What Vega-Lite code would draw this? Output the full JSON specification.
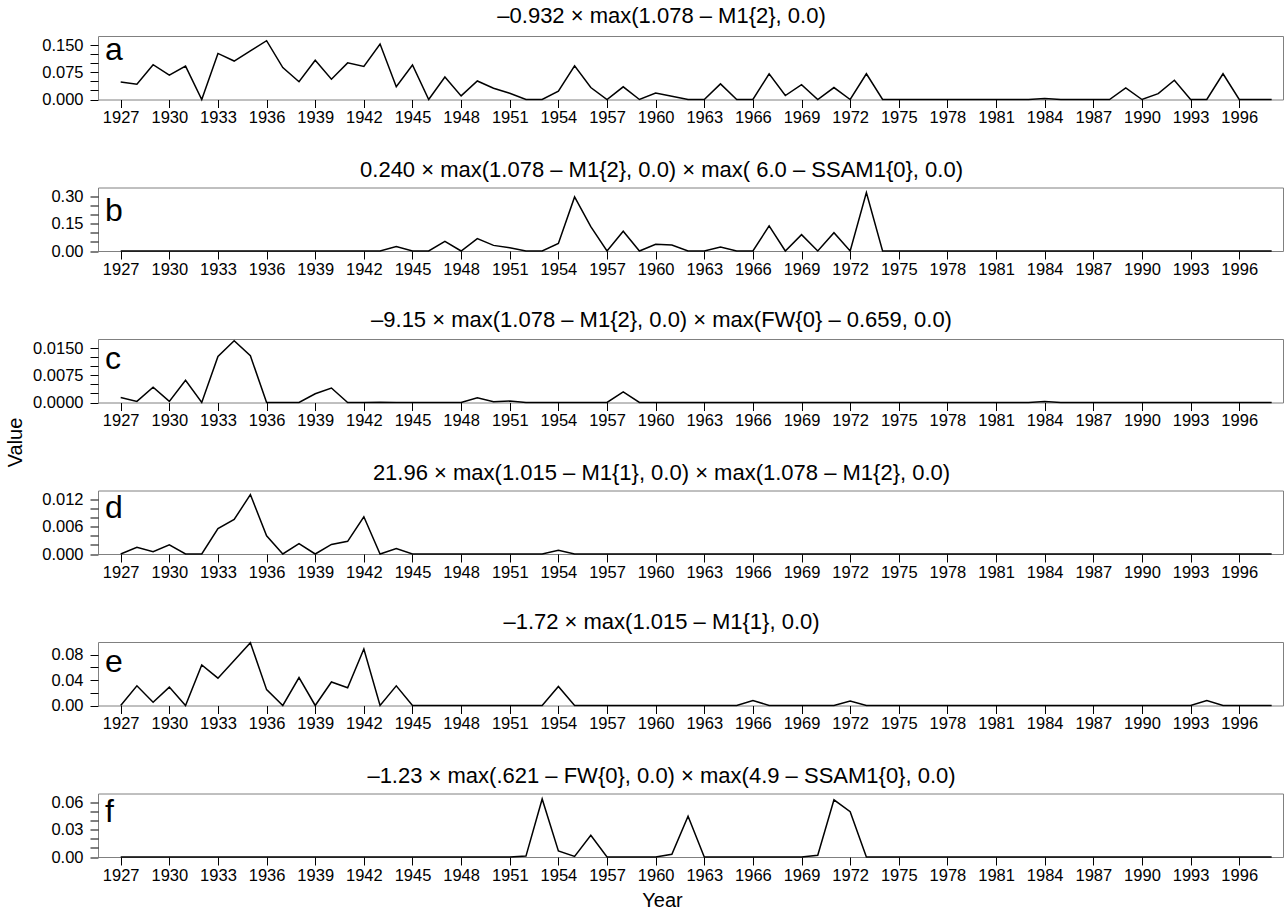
{
  "$schema": "https://vega.github.io/schema/vega-lite/v6.json",
  "padding": {"left": 4, "top": 4, "right": 3, "bottom": 2},
  "background": "white",
  "config": {
    "font": "Liberation Sans",
    "view": {"stroke": "#808080", "strokeWidth": 1},
    "axis": {"domain": false, "grid": false, "tickColor": "black", "labelColor": "black", "labelFontSize": 16.5, "tickSize": 8, "tickWidth": 1, "labelOverlap": false, "labelFlush": false, "titleFontWeight": "normal", "titleFontSize": 20, "titleColor": "black"},
    "title": {"fontSize": 22, "fontWeight": "normal", "color": "black", "offset": 6, "dx": -29}
  },
  "data": {"values": [
    {"Year":1927,"a":0.048,"b":0,"c":0.0014,"d":0,"e":0,"f":0},
    {"Year":1928,"a":0.042,"b":0,"c":0.0003,"d":0.0015,"e":0.031,"f":0},
    {"Year":1929,"a":0.096,"b":0,"c":0.0042,"d":0.0005,"e":0.005,"f":0},
    {"Year":1930,"a":0.067,"b":0,"c":0.0003,"d":0.002,"e":0.029,"f":0},
    {"Year":1931,"a":0.092,"b":0,"c":0.0061,"d":0,"e":0,"f":0},
    {"Year":1932,"a":0,"b":0,"c":0,"d":0,"e":0.064,"f":0},
    {"Year":1933,"a":0.127,"b":0,"c":0.0127,"d":0.0056,"e":0.043,"f":0},
    {"Year":1934,"a":0.106,"b":0,"c":0.017,"d":0.0076,"e":0.071,"f":0},
    {"Year":1935,"a":0.134,"b":0,"c":0.0129,"d":0.0131,"e":0.099,"f":0},
    {"Year":1936,"a":0.162,"b":0,"c":0,"d":0.004,"e":0.025,"f":0},
    {"Year":1937,"a":0.088,"b":0,"c":0,"d":0,"e":0,"f":0},
    {"Year":1938,"a":0.049,"b":0,"c":0,"d":0.0023,"e":0.044,"f":0},
    {"Year":1939,"a":0.108,"b":0,"c":0.0024,"d":0,"e":0,"f":0},
    {"Year":1940,"a":0.056,"b":0,"c":0.004,"d":0.0021,"e":0.037,"f":0},
    {"Year":1941,"a":0.101,"b":0,"c":0,"d":0.0028,"e":0.028,"f":0},
    {"Year":1942,"a":0.091,"b":0,"c":0,"d":0.0082,"e":0.089,"f":0},
    {"Year":1943,"a":0.153,"b":0,"c":0.0001,"d":0,"e":0,"f":0},
    {"Year":1944,"a":0.035,"b":0.024,"c":0,"d":0.0012,"e":0.031,"f":0},
    {"Year":1945,"a":0.095,"b":0,"c":0,"d":0,"e":0,"f":0},
    {"Year":1946,"a":0,"b":0,"c":0,"d":0,"e":0,"f":0},
    {"Year":1947,"a":0.062,"b":0.053,"c":0,"d":0,"e":0,"f":0},
    {"Year":1948,"a":0.01,"b":0,"c":0,"d":0,"e":0,"f":0},
    {"Year":1949,"a":0.051,"b":0.068,"c":0.0013,"d":0,"e":0,"f":0},
    {"Year":1950,"a":0.031,"b":0.031,"c":0.0002,"d":0,"e":0,"f":0},
    {"Year":1951,"a":0.017,"b":0.018,"c":0.0004,"d":0,"e":0,"f":0},
    {"Year":1952,"a":0,"b":0,"c":0,"d":0,"e":0,"f":0.001},
    {"Year":1953,"a":0,"b":0,"c":0,"d":0,"e":0,"f":0.064},
    {"Year":1954,"a":0.023,"b":0.042,"c":0,"d":0.0008,"e":0.03,"f":0.0066},
    {"Year":1955,"a":0.093,"b":0.298,"c":0,"d":0,"e":0,"f":0.0007},
    {"Year":1956,"a":0.033,"b":0.134,"c":0,"d":0,"e":0,"f":0.024},
    {"Year":1957,"a":0,"b":0,"c":0,"d":0,"e":0,"f":0},
    {"Year":1958,"a":0.035,"b":0.109,"c":0.0029,"d":0,"e":0,"f":0},
    {"Year":1959,"a":0,"b":0,"c":0,"d":0,"e":0,"f":0},
    {"Year":1960,"a":0.018,"b":0.037,"c":0,"d":0,"e":0,"f":0},
    {"Year":1961,"a":0.009,"b":0.033,"c":0,"d":0,"e":0,"f":0.003},
    {"Year":1962,"a":0,"b":0,"c":0,"d":0,"e":0,"f":0.045},
    {"Year":1963,"a":0,"b":0,"c":0,"d":0,"e":0,"f":0},
    {"Year":1964,"a":0.043,"b":0.022,"c":0,"d":0,"e":0,"f":0},
    {"Year":1965,"a":0,"b":0,"c":0,"d":0,"e":0,"f":0},
    {"Year":1966,"a":0,"b":0,"c":0,"d":0,"e":0.008,"f":0},
    {"Year":1967,"a":0.071,"b":0.138,"c":0,"d":0,"e":0,"f":0},
    {"Year":1968,"a":0.011,"b":0,"c":0,"d":0,"e":0,"f":0},
    {"Year":1969,"a":0.041,"b":0.09,"c":0,"d":0,"e":0,"f":0},
    {"Year":1970,"a":0,"b":0,"c":0,"d":0,"e":0,"f":0.002},
    {"Year":1971,"a":0.033,"b":0.101,"c":0,"d":0,"e":0,"f":0.063},
    {"Year":1972,"a":0,"b":0,"c":0,"d":0,"e":0.007,"f":0.05},
    {"Year":1973,"a":0.071,"b":0.322,"c":0,"d":0,"e":0,"f":0},
    {"Year":1974,"a":0,"b":0,"c":0,"d":0,"e":0,"f":0},
    {"Year":1975,"a":0,"b":0,"c":0,"d":0,"e":0,"f":0},
    {"Year":1976,"a":0,"b":0,"c":0,"d":0,"e":0,"f":0},
    {"Year":1977,"a":0,"b":0,"c":0,"d":0,"e":0,"f":0},
    {"Year":1978,"a":0,"b":0,"c":0,"d":0,"e":0,"f":0},
    {"Year":1979,"a":0,"b":0,"c":0,"d":0,"e":0,"f":0},
    {"Year":1980,"a":0,"b":0,"c":0,"d":0,"e":0,"f":0},
    {"Year":1981,"a":0,"b":0,"c":0,"d":0,"e":0,"f":0},
    {"Year":1982,"a":0,"b":0,"c":0,"d":0,"e":0,"f":0},
    {"Year":1983,"a":0,"b":0,"c":0,"d":0,"e":0,"f":0},
    {"Year":1984,"a":0.003,"b":0,"c":0.0003,"d":0,"e":0,"f":0},
    {"Year":1985,"a":0,"b":0,"c":0,"d":0,"e":0,"f":0},
    {"Year":1986,"a":0,"b":0,"c":0,"d":0,"e":0,"f":0},
    {"Year":1987,"a":0,"b":0,"c":0,"d":0,"e":0,"f":0},
    {"Year":1988,"a":0,"b":0,"c":0,"d":0,"e":0,"f":0},
    {"Year":1989,"a":0.032,"b":0,"c":0,"d":0,"e":0,"f":0},
    {"Year":1990,"a":0,"b":0,"c":0,"d":0,"e":0,"f":0},
    {"Year":1991,"a":0.016,"b":0,"c":0,"d":0,"e":0,"f":0},
    {"Year":1992,"a":0.053,"b":0,"c":0,"d":0,"e":0,"f":0},
    {"Year":1993,"a":0,"b":0,"c":0,"d":0,"e":0,"f":0},
    {"Year":1994,"a":0,"b":0,"c":0,"d":0,"e":0.008,"f":0},
    {"Year":1995,"a":0.071,"b":0,"c":0,"d":0,"e":0,"f":0},
    {"Year":1996,"a":0,"b":0,"c":0,"d":0,"e":0,"f":0},
    {"Year":1997,"a":0,"b":0,"c":0,"d":0,"e":0,"f":0},
    {"Year":1998,"a":0,"b":0,"c":0,"d":0,"e":0,"f":0}
  ]},
  "vconcat": [
    {
      "width": 1185, "height": 63.5,
      "title": {"text": "–0.932 × max(1.078 – M1{2}, 0.0)"},
      "layer": [
        {"mark": {"type": "line", "color": "black", "strokeWidth": 1.5},
         "encoding": {
           "x": {"field": "Year", "type": "quantitative", "scale": {"domain": [1925.6, 1998.7], "nice": false, "zero": false},
                 "axis": {"title": null, "format": "d", "tickCount": 40, "labelOverlap": false, "labelFlush": false, "values": [1927,1930,1933,1936,1939,1942,1945,1948,1951,1954,1957,1960,1963,1966,1969,1972,1975,1978,1981,1984,1987,1990,1993,1996], "labelPadding": 2}},
           "y": {"field": "a", "type": "quantitative", "scale": {"domain": [0, 0.175], "nice": false},
                 "axis": {"title": null, "tickCount": 20, "labelOverlap": false, "labelFlush": false, "values": [0,0.025,0.05,0.075,0.1,0.125,0.15], "labelPadding": 7,
                          "labelExpr": "abs(datum.value - 0.075*round(datum.value/0.075)) < 1e-9 ? format(datum.value, '.3f') : ''"}}
         }},
        {"data": {"values": [{}]},
         "mark": {"type": "text", "text": "a", "align": "left", "baseline": "alphabetic", "dx": 7, "dy": 24, "fontSize": 32},
         "encoding": {"x": {"datum": 1925.6, "type": "quantitative"}, "y": {"datum": 0.175, "type": "quantitative"}}}
      ]
    },
    {
      "width": 1185, "height": 63.5,
      "title": {"text": "0.240 × max(1.078 – M1{2}, 0.0) × max( 6.0 – SSAM1{0}, 0.0)"},
      "layer": [
        {"mark": {"type": "line", "color": "black", "strokeWidth": 1.5},
         "encoding": {
           "x": {"field": "Year", "type": "quantitative", "scale": {"domain": [1925.6, 1998.7], "nice": false, "zero": false},
                 "axis": {"title": null, "format": "d", "tickCount": 40, "labelOverlap": false, "labelFlush": false, "values": [1927,1930,1933,1936,1939,1942,1945,1948,1951,1954,1957,1960,1963,1966,1969,1972,1975,1978,1981,1984,1987,1990,1993,1996], "labelPadding": 2}},
           "y": {"field": "b", "type": "quantitative", "scale": {"domain": [0, 0.35], "nice": false},
                 "axis": {"title": null, "tickCount": 20, "labelOverlap": false, "labelFlush": false, "values": [0,0.05,0.1,0.15,0.2,0.25,0.3], "labelPadding": 7,
                          "labelExpr": "abs(datum.value - 0.15*round(datum.value/0.15)) < 1e-9 ? format(datum.value, '.2f') : ''"}}
         }},
        {"data": {"values": [{}]},
         "mark": {"type": "text", "text": "b", "align": "left", "baseline": "alphabetic", "dx": 7, "dy": 33, "fontSize": 32},
         "encoding": {"x": {"datum": 1925.6, "type": "quantitative"}, "y": {"datum": 0.35, "type": "quantitative"}}}
      ]
    },
    {
      "width": 1185, "height": 63.5,
      "title": {"text": "–9.15 × max(1.078 – M1{2}, 0.0) × max(FW{0} – 0.659, 0.0)"},
      "layer": [
        {"mark": {"type": "line", "color": "black", "strokeWidth": 1.5},
         "encoding": {
           "x": {"field": "Year", "type": "quantitative", "scale": {"domain": [1925.6, 1998.7], "nice": false, "zero": false},
                 "axis": {"title": null, "format": "d", "tickCount": 40, "labelOverlap": false, "labelFlush": false, "values": [1927,1930,1933,1936,1939,1942,1945,1948,1951,1954,1957,1960,1963,1966,1969,1972,1975,1978,1981,1984,1987,1990,1993,1996], "labelPadding": 2}},
           "y": {"field": "c", "type": "quantitative", "scale": {"domain": [0, 0.0175], "nice": false},
                 "axis": {"title": "Value", "titleAngle": -90, "titleX": -93, "titleY": 103, "titleAlign": "center", "titleBaseline": "top",
                          "tickCount": 20, "labelOverlap": false, "labelFlush": false, "values": [0,0.0025,0.005,0.0075,0.01,0.0125,0.015], "labelPadding": 7,
                          "labelExpr": "abs(datum.value - 0.0075*round(datum.value/0.0075)) < 1e-9 ? format(datum.value, '.4f') : ''"}}
         }},
        {"data": {"values": [{}]},
         "mark": {"type": "text", "text": "c", "align": "left", "baseline": "alphabetic", "dx": 7, "dy": 30, "fontSize": 32},
         "encoding": {"x": {"datum": 1925.6, "type": "quantitative"}, "y": {"datum": 0.0175, "type": "quantitative"}}}
      ]
    },
    {
      "width": 1185, "height": 63.5,
      "title": {"text": "21.96 × max(1.015 – M1{1}, 0.0) × max(1.078 – M1{2}, 0.0)"},
      "layer": [
        {"mark": {"type": "line", "color": "black", "strokeWidth": 1.5},
         "encoding": {
           "x": {"field": "Year", "type": "quantitative", "scale": {"domain": [1925.6, 1998.7], "nice": false, "zero": false},
                 "axis": {"title": null, "format": "d", "tickCount": 40, "labelOverlap": false, "labelFlush": false, "values": [1927,1930,1933,1936,1939,1942,1945,1948,1951,1954,1957,1960,1963,1966,1969,1972,1975,1978,1981,1984,1987,1990,1993,1996], "labelPadding": 2}},
           "y": {"field": "d", "type": "quantitative", "scale": {"domain": [0, 0.014], "nice": false},
                 "axis": {"title": null, "tickCount": 20, "labelOverlap": false, "labelFlush": false, "values": [0,0.002,0.004,0.006,0.008,0.01,0.012], "labelPadding": 7,
                          "labelExpr": "abs(datum.value - 0.006*round(datum.value/0.006)) < 1e-9 ? format(datum.value, '.3f') : ''"}}
         }},
        {"data": {"values": [{}]},
         "mark": {"type": "text", "text": "d", "align": "left", "baseline": "alphabetic", "dx": 7, "dy": 27, "fontSize": 32},
         "encoding": {"x": {"datum": 1925.6, "type": "quantitative"}, "y": {"datum": 0.014, "type": "quantitative"}}}
      ]
    },
    {
      "width": 1185, "height": 63.5,
      "title": {"text": "–1.72 × max(1.015 – M1{1}, 0.0)"},
      "layer": [
        {"mark": {"type": "line", "color": "black", "strokeWidth": 1.5},
         "encoding": {
           "x": {"field": "Year", "type": "quantitative", "scale": {"domain": [1925.6, 1998.7], "nice": false, "zero": false},
                 "axis": {"title": null, "format": "d", "tickCount": 40, "labelOverlap": false, "labelFlush": false, "values": [1927,1930,1933,1936,1939,1942,1945,1948,1951,1954,1957,1960,1963,1966,1969,1972,1975,1978,1981,1984,1987,1990,1993,1996], "labelPadding": 2}},
           "y": {"field": "e", "type": "quantitative", "scale": {"domain": [0, 0.1], "nice": false},
                 "axis": {"title": null, "tickCount": 20, "labelOverlap": false, "labelFlush": false, "values": [0,0.02,0.04,0.06,0.08], "labelPadding": 7,
                          "labelExpr": "abs(datum.value - 0.04*round(datum.value/0.04)) < 1e-9 ? format(datum.value, '.2f') : ''"}}
         }},
        {"data": {"values": [{}]},
         "mark": {"type": "text", "text": "e", "align": "left", "baseline": "alphabetic", "dx": 7, "dy": 30, "fontSize": 32},
         "encoding": {"x": {"datum": 1925.6, "type": "quantitative"}, "y": {"datum": 0.1, "type": "quantitative"}}}
      ]
    },
    {
      "width": 1185, "height": 63.5,
      "title": {"text": "–1.23 × max(.621 – FW{0}, 0.0) × max(4.9 – SSAM1{0}, 0.0)"},
      "layer": [
        {"mark": {"type": "line", "color": "black", "strokeWidth": 1.5},
         "encoding": {
           "x": {"field": "Year", "type": "quantitative", "scale": {"domain": [1925.6, 1998.7], "nice": false, "zero": false},
                 "axis": {"title": "Year", "titleX": 564, "titleY": 43, "titleAlign": "center", "titleBaseline": "middle", "format": "d", "tickCount": 40, "labelOverlap": false, "labelFlush": false, "values": [1927,1930,1933,1936,1939,1942,1945,1948,1951,1954,1957,1960,1963,1966,1969,1972,1975,1978,1981,1984,1987,1990,1993,1996], "labelPadding": 2}},
           "y": {"field": "f", "type": "quantitative", "scale": {"domain": [0, 0.07], "nice": false},
                 "axis": {"title": null, "tickCount": 20, "labelOverlap": false, "labelFlush": false, "values": [0,0.01,0.02,0.03,0.04,0.05,0.06], "labelPadding": 7,
                          "labelExpr": "abs(datum.value - 0.03*round(datum.value/0.03)) < 1e-9 ? format(datum.value, '.2f') : ''"}}
         }},
        {"data": {"values": [{}]},
         "mark": {"type": "text", "text": "f", "align": "left", "baseline": "alphabetic", "dx": 7, "dy": 28, "fontSize": 32},
         "encoding": {"x": {"datum": 1925.6, "type": "quantitative"}, "y": {"datum": 0.07, "type": "quantitative"}}}
      ]
    }
  ],
  "spacing": 87.5,
  "bounds": "flush"
}
